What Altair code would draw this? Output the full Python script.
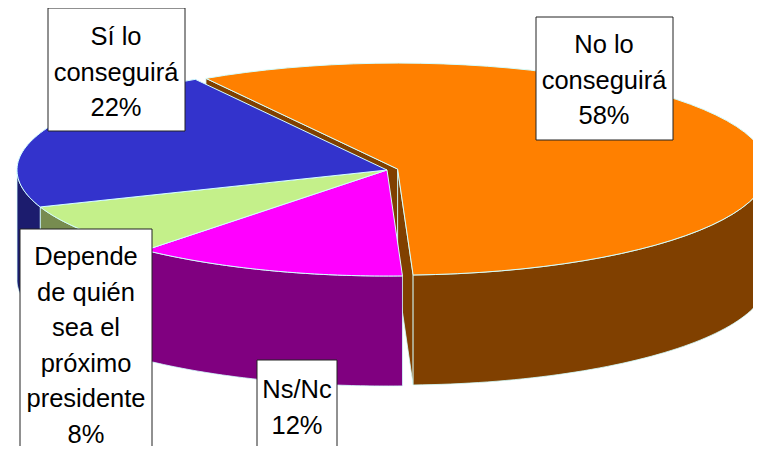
import altair as alt
import pandas as pd

# slices, clockwise from the top-left cut
labels = ["No lo conseguirá", "Ns/Nc", "Depende de quién sea el próximo presidente", "Sí lo conseguirá"]
shares = [58, 12, 8, 22]
label_lines = [["No lo", "conseguirá"], ["Ns/Nc"], ["Depende", "de quién", "sea el", "próximo", "presidente"], ["Sí lo", "conseguirá"]]

# styles
top_colors = ["#FF8000", "#FF00FF", "#C4F08A", "#3333CC"]
side_colors = ["#804000", "#800080", "#778C50", "#1C1C6E"]
explode = {"No lo conseguirá": 0.03}
edge = "#D4FFFF"
font = "Liberation Sans"

# geometry of the 3D pie (reference pixels)
CX, CY, RX, RY, DEPTH = 387, 170, 370, 106, 110
START = -31.2
N = 60

# label boxes: x0, x1, y0, y1, text centre x, first line centre y
boxes = {
    "No lo conseguirá": (536, 673, 17, 140, 604, 45),
    "Ns/Nc": (257, 337, 360, 447, 297, 390),
    "Depende de quién sea el próximo presidente": (20, 152, 229, 470, 86, 257),
    "Sí lo conseguirá": (48, 185, 8, 131, 116, 37),
}

df = pd.DataFrame({
    "label": labels,
    "share": shares,
    "i": range(len(labels)),
    "explode": [explode.get(l, 0.0) for l in labels],
})

xs = alt.Scale(domain=[8, 753], nice=False, zero=False)
ys = alt.Scale(domain=[446, 8], nice=False, zero=False)
top_fill = alt.Fill("label:N", scale=alt.Scale(domain=labels, range=top_colors), legend=None)
side_fill = alt.Fill("label:N", scale=alt.Scale(domain=labels, range=side_colors), legend=None)

base = alt.Chart(df).transform_window(
    cum="sum(share)", sort=[alt.SortField("i")]
).transform_calculate(
    a0=f"{START} + 3.6 * (datum.cum - datum.share)",
    a1=f"{START} + 3.6 * datum.cum",
).transform_calculate(
    mid="(datum.a0 + datum.a1) / 2 * PI / 180",
).transform_calculate(
    ox=f"datum.explode * {RX} * sin(datum.mid)",
    oy=f"-datum.explode * {RY} * cos(datum.mid)",
)

# cut faces of the exploded slice
faces = base.transform_filter("datum.explode > 0").transform_calculate(
    k="sequence(0, 8)"
).transform_flatten(["k"]).transform_calculate(
    face="floor(datum.k / 4)", kk="datum.k % 4"
).transform_calculate(
    th="(datum.face == 0 ? datum.a0 : datum.a1) * PI / 180"
).transform_calculate(
    rim="(datum.kk == 1 || datum.kk == 2) ? 1 : 0",
    down="(datum.kk >= 2) ? 1 : 0",
).transform_calculate(
    px=f"{CX} + datum.ox + datum.rim * {RX} * sin(datum.th)",
    py=f"{CY} + datum.oy - datum.rim * {RY} * cos(datum.th) + datum.down * {DEPTH}",
).mark_line(interpolate="linear-closed", stroke=edge, strokeWidth=0.8).encode(
    x=alt.X("px:Q", scale=xs, axis=None),
    y=alt.Y("py:Q", scale=ys, axis=None),
    fill=side_fill,
    detail="face:N",
    order="kk:Q",
)

# outer walls, front half only
sides = base.transform_calculate(
    s0="max(datum.a0, 90)", s1="min(datum.a1, 270)"
).transform_filter("datum.s1 > datum.s0").transform_calculate(
    k=f"sequence(0, {2 * (N + 1)})"
).transform_flatten(["k"]).transform_calculate(
    j=f"datum.k <= {N} ? datum.k : {2 * N + 1} - datum.k",
    down=f"datum.k <= {N} ? 0 : 1",
).transform_calculate(
    th=f"(datum.s0 + (datum.s1 - datum.s0) * datum.j / {N}) * PI / 180"
).transform_calculate(
    px=f"{CX} + datum.ox + {RX} * sin(datum.th)",
    py=f"{CY} + datum.oy - {RY} * cos(datum.th) + datum.down * {DEPTH}",
).mark_line(interpolate="linear-closed", stroke=edge, strokeWidth=0.8).encode(
    x=alt.X("px:Q", scale=xs, axis=None),
    y=alt.Y("py:Q", scale=ys, axis=None),
    fill=side_fill,
    order="k:Q",
)

walls = alt.layer(faces, sides)

# top faces
tops = base.transform_calculate(
    k=f"sequence(0, {N + 2})"
).transform_flatten(["k"]).transform_calculate(
    th=f"(datum.a0 + (datum.a1 - datum.a0) * (datum.k - 1) / {N}) * PI / 180",
    rim="datum.k == 0 ? 0 : 1",
).transform_calculate(
    px=f"{CX} + datum.ox + datum.rim * {RX} * sin(datum.th)",
    py=f"{CY} + datum.oy - datum.rim * {RY} * cos(datum.th)",
).mark_line(interpolate="linear-closed", stroke=edge, strokeWidth=1).encode(
    x=alt.X("px:Q", scale=xs, axis=None),
    y=alt.Y("py:Q", scale=ys, axis=None),
    fill=top_fill,
    order="k:Q",
)

# label boxes
box_df = pd.DataFrame([
    {"label": l, "x0": b[0], "x1": b[1], "y0": b[2], "y1": b[3], "tx": b[4], "ty": b[5],
     "text": "\n".join(lines + [f"{s}%"])}
    for l, s, lines in zip(labels, shares, label_lines)
    for b in [boxes[l]]
])

rects = alt.Chart(box_df).mark_rect(fill="white", stroke="#222222", strokeWidth=1).encode(
    x=alt.X("x0:Q", scale=xs, axis=None),
    x2="x1:Q",
    y=alt.Y("y0:Q", scale=ys, axis=None),
    y2="y1:Q",
)

texts = alt.Chart(box_df).mark_text(
    font=font, fontSize=25.5, lineBreak="\n", lineHeight=35.5,
    align="center", baseline="middle", color="black",
).encode(
    x=alt.X("tx:Q", scale=xs, axis=None),
    y=alt.Y("ty:Q", scale=ys, axis=None),
    text="text:N",
)

chart = alt.layer(walls, tops, rects, texts).resolve_scale(
    fill="independent"
).properties(
    width=745, height=438, padding=0, autosize="none"
).configure_view(stroke=None)

chart.save("out.html", embed_options={"renderer": "svg", "actions": False})
